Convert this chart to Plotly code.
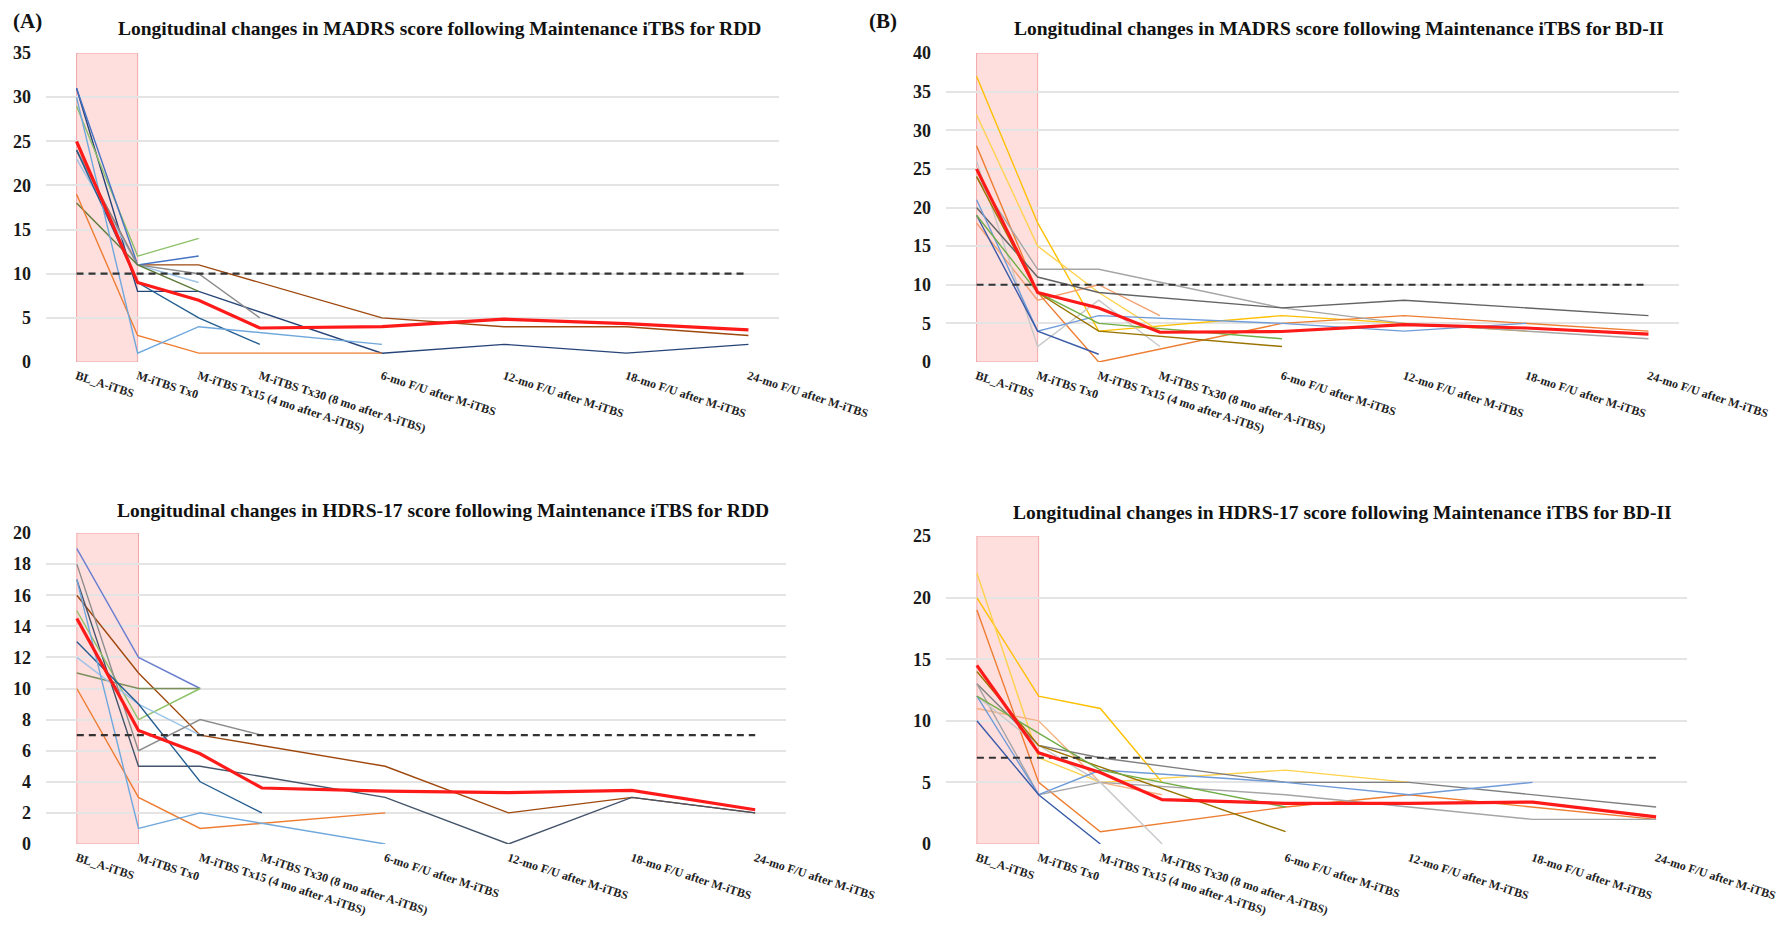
import plotly.graph_objects as go

# ---------------- data ----------------
time_labels = ["BL_A-iTBS", "M-iTBS Tx0", "M-iTBS Tx15 (4 mo after A-iTBS)",
               "M-iTBS Tx30 (8 mo after A-iTBS)", "6-mo F/U after M-iTBS",
               "12-mo F/U after M-iTBS", "18-mo F/U after M-iTBS", "24-mo F/U after M-iTBS"]
# category slots of the original sheet (blank categories between follow-ups)
time_slots = [0, 1, 2, 3, 5, 7, 9, 11]
N = None

# MADRS, RDD
madrs_rdd = [
    ("#9E480E", [24, 11, 11, N, 5, 4, 4, 3]),
    ("#264478", [31, 8, 8, N, 1, 2, 1, 2]),
    ("#8CC168", [29, 12, 14, N, N, N, N, N]),
    ("#4472C4", [31, 11, 12, N, N, N, N, N]),
    ("#9DC3E6", [23, 11, 9, N, N, N, N, N]),
    ("#8C8C8C", [24, 11, 10, 5, N, N, N, N]),
    ("#255E91", [24, 9, 5, 2, N, N, N, N]),
    ("#5E7A3A", [18, 11, 8, N, N, N, N, N]),
    ("#ED7D31", [19, 3, 1, 1, 1, N, N, N]),
    ("#6FA8DC", [30, 1, 4, N, 2, N, N, N]),
]
madrs_rdd_mean = [25, 9, 7, 3.85, 4.0, 4.85, 4.35, 3.65]
madrs_cutoff = 10

# MADRS, BD-II
madrs_bd = [
    ("#FFC000", [37, 18, 4, N, 6, 5, 4, N]),
    ("#FFD24D", [32, 15, 9, 4, N, N, N, N]),
    ("#F4A070", [18, 8, 10, 6, N, N, N, N]),
    ("#ED7D31", [28, 9, 0, N, 5, 6, 5, 4]),
    ("#C8C8C8", [26, 2, 8, 2, N, N, N, N]),
    ("#A5A5A5", [24, 12, 12, N, 7, 5, 4, 3]),
    ("#636363", [20, 11, 9, N, 7, 8, 7, 6]),
    ("#6F9BD8", [21, 4, 6, N, 5, 4, 5, N]),
    ("#3A5BA8", [19, 4, 1, N, N, N, N, N]),
    ("#70AD47", [19, 9, 5, N, 3, N, N, N]),
    ("#997300", [24, 9, 4, N, 2, N, N, N]),
]
madrs_bd_mean = [25, 9, 7, 3.85, 3.95, 4.85, 4.4, 3.6]

# HDRS-17, RDD
hdrs_rdd = [
    ("#9E480E", [16, 11, 7, N, 5, 2, 3, 2]),
    ("#44546A", [17, 5, 5, N, 3, 0, 3, 2]),
    ("#6A7FD0", [19, 12, 10, N, N, N, N, N]),
    ("#7A8F5A", [11, 10, 10, N, N, N, N, N]),
    ("#8CC168", [15, 8, 10, N, N, N, N, N]),
    ("#9DC3E6", [12, 9, 7, N, N, N, N, N]),
    ("#8C8C8C", [18, 6, 8, 7, N, N, N, N]),
    ("#255E91", [13, 9, 4, 2, N, N, N, N]),
    ("#ED7D31", [10, 3, 1, N, 2, N, N, N]),
    ("#6FA8DC", [17, 1, 2, N, 0, N, N, N]),
]
hdrs_rdd_mean = [14.5, 7.3, 5.8, 3.6, 3.4, 3.3, 3.45, 2.2]
hdrs_cutoff = 7

# HDRS-17, BD-II
hdrs_bd = [
    ("#FFC000", [20, 12, 11, 5, N, N, N, N]),
    ("#FFD24D", [22, 7, 5, N, 6, 5, N, N]),
    ("#ED7D31", [19, 5, 1, N, 3, 4, 3, 2]),
    ("#F4B183", [11, 10, 5, 4, N, N, N, N]),
    ("#7F7F7F", [13, 8, 7, N, 5, 5, 4, 3]),
    ("#A5A5A5", [13, 4, 5, N, 4, 3, 2, 2]),
    ("#C8C8C8", [12, 8, 5, 0, N, N, N, N]),
    ("#6F9BD8", [12, 4, 6, N, 5, 4, 5, N]),
    ("#3A5BA8", [10, 4, 0, N, N, N, N, N]),
    ("#997300", [14, 8, N, N, 1, N, N, N]),
    ("#70AD47", [12, 9, 6, N, 3, N, N, N]),
]
hdrs_bd_mean = [14.5, 7.4, 5.8, 3.6, 3.3, 3.3, 3.4, 2.2]

titles = ["Longitudinal changes in MADRS score following Maintenance iTBS for RDD",
          "Longitudinal changes in MADRS score following Maintenance iTBS for BD-II",
          "Longitudinal changes in HDRS-17 score following Maintenance iTBS for RDD",
          "Longitudinal changes in HDRS-17 score following Maintenance iTBS for BD-II"]

# ---------------- layout helpers ----------------
# page body has an 8px margin: figure is sized/positioned so that it fills the 1790x930 window
OFF = 8
W, H = 1790 - 2 * OFF, 930 - 2 * OFF
SERIF = "Liberation Serif, Times New Roman, serif"


def px_x(v):
    return (v - OFF) / W


def px_y(v):
    return 1 - (v - OFF) / H


panels = [
    # (series, mean, cutoff, ymax, dtick, (x0,x1,ytop,ybot) window px, title center px)
    (madrs_rdd, madrs_rdd_mean, madrs_cutoff, 35, 5, (46, 779, 53, 362), (439, 29)),
    (madrs_bd, madrs_bd_mean, madrs_cutoff, 40, 5, (946, 1679, 53, 362), (1339, 29)),
    (hdrs_rdd, hdrs_rdd_mean, hdrs_cutoff, 20, 2, (46, 786, 533, 844), (443, 510)),
    (hdrs_bd, hdrs_bd_mean, hdrs_cutoff, 25, 5, (946, 1687, 536, 844), (1342, 512)),
]

fig = go.Figure()
layout = dict(width=W, height=H, autosize=False, margin=dict(l=0, r=0, t=0, b=0, pad=0),
              paper_bgcolor="white", plot_bgcolor="white", showlegend=False)
shapes = []
annotations = []

for i, (series, mean, cutoff, ymax, dtick, box, tpos) in enumerate(panels):
    k = "" if i == 0 else str(i + 1)
    xa, ya = "x" + k, "y" + k
    x0, x1, yt, yb = box
    layout["xaxis" + k] = dict(
        domain=[px_x(x0), px_x(x1)], range=[-0.5, 11.5], anchor=ya, automargin=False,
        tickmode="array", tickvals=time_slots, ticktext=time_labels, tickangle=18,
        showgrid=False, zeroline=False, showline=False, ticks="",
        tickfont=dict(family=SERIF, size=12, color="#222", weight="bold"),
        ticklabelstandoff=4, ticklabeloverflow="allow")
    layout["yaxis" + k] = dict(
        domain=[px_y(yb), px_y(yt)], range=[0, ymax], anchor=xa, automargin=False,
        dtick=dtick, tick0=0, showgrid=True, gridcolor="#e4e4e4", gridwidth=1.5,
        zeroline=False, showline=False, ticks="",
        tickfont=dict(family=SERIF, size=18, color="#1a1a1a", weight="bold"),
        ticklabelstandoff=14)
    # pink acute-phase band
    shapes.append(dict(type="rect", xref=xa, yref=ya, x0=time_slots[0], x1=time_slots[1],
                       y0=0, y1=ymax, fillcolor="rgba(255,205,205,0.65)",
                       line=dict(color="rgba(240,150,150,0.8)", width=1), layer="below"))
    for color, vals in series:
        fig.add_trace(go.Scatter(x=time_slots, y=vals, mode="lines", connectgaps=True,
                                 line=dict(color=color, width=1.4),
                                 xaxis=xa, yaxis=ya, hoverinfo="skip"))
    fig.add_trace(go.Scatter(x=[time_slots[0], time_slots[-1]], y=[cutoff, cutoff],
                             mode="lines", line=dict(color="#333333", width=2.2, dash="7px,5px"),
                             xaxis=xa, yaxis=ya, hoverinfo="skip"))
    fig.add_trace(go.Scatter(x=time_slots, y=mean, mode="lines",
                             line=dict(color="#FF1A1A", width=3.2),
                             xaxis=xa, yaxis=ya, hoverinfo="skip"))
    annotations.append(dict(text=titles[i], x=px_x(tpos[0]), y=px_y(tpos[1]),
                            xref="paper", yref="paper", showarrow=False,
                            xanchor="center", yanchor="middle",
                            font=dict(family=SERIF, size=19.5, color="#111", weight="bold")))

for lab, xp in (("(A)", 27), ("(B)", 883)):
    annotations.append(dict(text=lab, x=px_x(xp), y=px_y(21), xref="paper", yref="paper",
                            showarrow=False, xanchor="center", yanchor="middle",
                            font=dict(family=SERIF, size=21, color="#111", weight="bold")))

layout["shapes"] = shapes
layout["annotations"] = annotations
fig.update_layout(**layout)
fig.write_html("out.html")
